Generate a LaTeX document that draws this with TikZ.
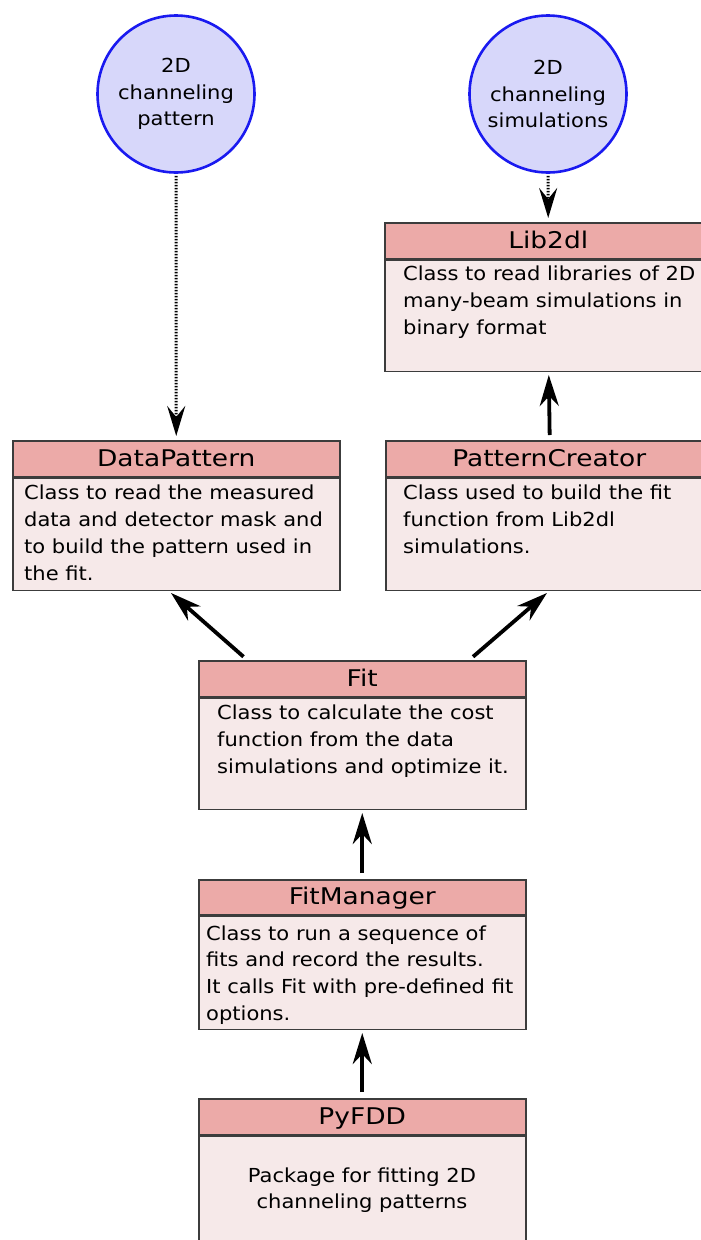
\documentclass[tikz,border=0pt]{standalone}
\usepackage{fontspec}
\setmainfont{DejaVu Sans}[FakeStretch=1.09]
\newfontfamily\hdrfont{DejaVu Sans}[FakeStretch=1.15]
\usetikzlibrary{arrows.meta,calc}
\definecolor{hdrfill}{HTML}{ECAAA8}
\definecolor{bodfill}{HTML}{F6E9E9}
\definecolor{boxline}{HTML}{3C3C3C}
\definecolor{circfill}{HTML}{D7D7FA}
\definecolor{circline}{HTML}{1A1AF0}
\newcommand\fstrut{\rule{0pt}{18pt}}
\tikzset{
  hdr/.style={draw=boxline, fill=hdrfill, line width=1.5pt, anchor=north west, inner sep=0pt,
    minimum width=327pt, minimum height=36pt, font=\hdrfont\fontsize{23}{28}\selectfont,
    text height=16.8pt, text depth=2pt},
  bod/.style={draw=boxline, fill=bodfill, line width=1.5pt, anchor=north, inner sep=0pt,
    minimum width=327pt},
  txt/.style={anchor=north west, align=left, inner sep=0pt, font=\fontsize{19.3}{27}\selectfont},
  ctxt/.style={anchor=north, align=center, inner sep=0pt, font=\fontsize{19.3}{26}\selectfont},
  circ/.style={circle, draw=circline, fill=circfill, line width=2.6pt, minimum size=157pt,
    inner sep=0pt, align=center, font=\fontsize{19.3}{26.5}\selectfont},
  arr/.style={line width=3.8pt, -{Stealth[length=31pt, width=19pt, inset=10pt]}},
  dotarr/.style={line width=3pt, dash pattern=on 1.5pt off 1.5pt,
    -{Stealth[length=30pt, width=18pt, inset=11pt]}},
}
\begin{document}
\begin{tikzpicture}[x=1pt,y=-1pt]
\useasboundingbox (0,0) rectangle (701,1240);
\clip (0,0) rectangle (701,1240);

% circles
\node[circ] (c1) at (176,94) {2D\\channeling\\pattern};
\node[circ] (c2) at (548,94) {2D\\channeling\\simulations};

% Lib2dl
\node[hdr] (lb-h) at (384,222) {Lib2dl};
\node[bod, minimum height=111pt] (lb-b) at (lb-h.south) {};
\node[txt] (lb-t) at (403,262) {\fstrut Class to read libraries of 2D\\many-beam simulations in\\binary format};

% DataPattern
\node[hdr] (dp-h) at (12,440) {DataPattern};
\node[bod, minimum height=112pt] (dp-b) at (dp-h.south) {};
\node[txt] (dp-t) at (24,481) {\fstrut Class to read the measured\\data and detector mask and\\to build the pattern used in\\the fit.};

% PatternCreator
\node[hdr] (pc-h) at (385,440) {PatternCreator};
\node[bod, minimum height=112pt] (pc-b) at (pc-h.south) {};
\node[txt] (pc-t) at (403,481) {\fstrut Class used to build the fit\\function from Lib2dl\\simulations.};

% Fit
\node[hdr] (fit-h) at (198,660) {Fit};
\node[bod, minimum height=111pt] (fit-b) at (fit-h.south) {};
\node[txt] (fit-t) at (217,701) {\fstrut Class to calculate the cost\\function from the data\\simulations and optimize it.};

% FitManager
\node[hdr, minimum height=35pt] (fm-h) at (198,879) {FitManager};
\node[bod, minimum height=113pt] (fm-b) at (fm-h.south) {};
\node[txt, font=\fontsize{19.3}{26.7}\selectfont] (fm-t) at (206,922) {\fstrut Class to run a sequence of\\fits and record the results.\\It calls Fit with pre-defined fit\\options.};

% PyFDD
\node[hdr] (py-h) at (198,1098) {PyFDD};
\node[bod, minimum height=130pt] (py-b) at (py-h.south) {};
\node[ctxt] (py-t) at (362,1164) {\fstrut Package for fitting 2D\\channeling patterns};

% connectors
\draw[dotarr, shorten <=2pt, shorten >=4pt] (c1) -- (dp-h);
\draw[dotarr, shorten <=2pt, shorten >=4pt] (c2) -- (lb-h);
\draw[arr, shorten <=5pt, shorten >=3pt] ([xshift=0.5pt]pc-h.north) -- ([xshift=0.5pt]lb-b.south);
\draw[arr, shorten <=5pt, shorten >=3pt] ([xshift=-115pt]fit-h.north) -- ([xshift=-7.5pt]dp-b.south);
\draw[arr, shorten <=5pt, shorten >=3pt] ([xshift=107pt]fit-h.north) -- ([xshift=0pt]pc-b.south);
\draw[arr, shorten <=6pt, shorten >=3pt] (fm-h.north) -- (fit-b.south);
\draw[arr, shorten <=6pt, shorten >=3pt] (py-h.north) -- (fm-b.south);
\end{tikzpicture}
\end{document}
